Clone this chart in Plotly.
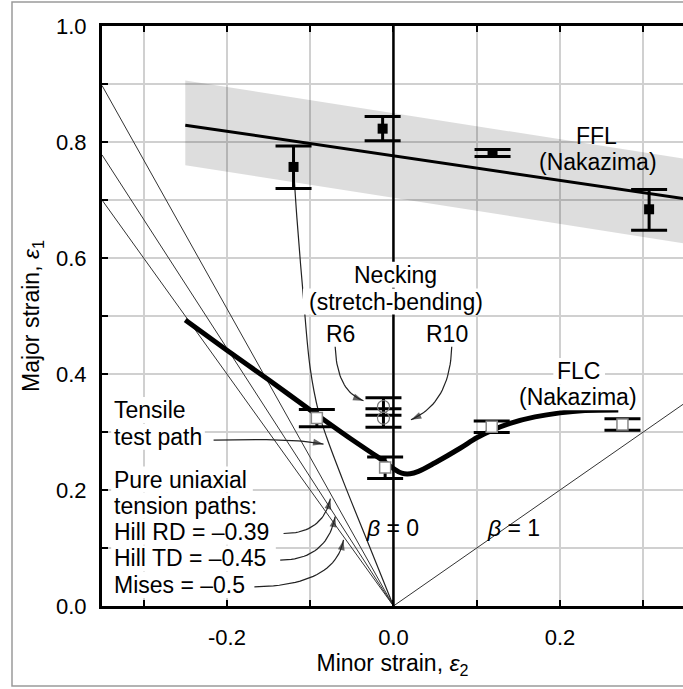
import plotly.graph_objects as go

# ---------------- data ----------------
# FFL (Nakazima) fracture points
ffl_x = [-0.120, -0.013, 0.119, 0.307]
ffl_y = [0.757, 0.823, 0.781, 0.684]
ffl_err_plus = [0.036, 0.021, 0.006, 0.034]
ffl_err_minus = [0.037, 0.021, 0.006, 0.036]
# FFL fitted line and scatter band
ffl_line_x = [-0.25, 0.35]
ffl_line_y = [0.829, 0.702]
band_x = [-0.25, 0.35, 0.35, -0.25]
band_y = [0.906, 0.771, 0.625, 0.760]

# FLC (Nakazima) necking points
flc_x = [-0.092, -0.010, 0.118, 0.275]
flc_y = [0.324, 0.239, 0.309, 0.313]
flc_err_plus = [0.015, 0.018, 0.010, 0.010]
flc_err_minus = [0.015, 0.019, 0.010, 0.010]
# FLC curve
flc_curve_x = [-0.25, -0.20, -0.15, -0.10, -0.05, -0.02, -0.01, 0.0, 0.01, 0.02,
               0.03, 0.05, 0.08, 0.10, 0.12, 0.14, 0.17, 0.20, 0.23, 0.27]
flc_curve_y = [0.493, 0.441, 0.390, 0.338, 0.287, 0.258, 0.248, 0.237, 0.229, 0.228,
               0.232, 0.247, 0.272, 0.290, 0.304, 0.315, 0.326, 0.333, 0.337, 0.338]

# Necking in stretch-bending (R6, R10)
neck_x = [-0.012, -0.012]
neck_y = [0.344, 0.324]
neck_err = [0.015, 0.016]

# Tensile test path
tensile_x = [0.0, -0.030, -0.060, -0.080, -0.090, -0.100, -0.108, -0.116, -0.120]
tensile_y = [0.0, 0.107, 0.214, 0.290, 0.335, 0.410, 0.530, 0.670, 0.757]

# Strain paths from origin (beta = eps2/eps1)
uniaxial_beta = [-0.39, -0.45, -0.5]
x_left, x_right = -0.35, 0.3477

x_ticks = [-0.2, 0.0, 0.2]
x_ticktext = ["-0.2", "0.0", "0.2"]
y_ticks = [0.0, 0.2, 0.4, 0.6, 0.8, 1.0]
y_ticktext = ["0.0", "0.2", "0.4", "0.6", "0.8", "1.0"]

FONT = "Liberation Sans, Arial, sans-serif"
PX_X = 581 / (x_right - x_left)
PX_Y = 580 / 1.0

fig = go.Figure()

# scatter band
fig.add_trace(go.Scatter(x=band_x, y=band_y, fill="toself", mode="lines",
                         line=dict(width=0), fillcolor="rgba(0,0,0,0.135)",
                         hoverinfo="skip", showlegend=False))

# uniaxial paths
for b in uniaxial_beta:
    fig.add_trace(go.Scatter(x=[0, x_left], y=[0, x_left / b], mode="lines",
                             line=dict(color="#333", width=1), showlegend=False))
# beta = 1
fig.add_trace(go.Scatter(x=[0, 0.35], y=[0, 0.35], mode="lines",
                         line=dict(color="#333", width=1), showlegend=False))
# beta = 0 (plane strain)
fig.add_trace(go.Scatter(x=[0, 0], y=[0, 1.0], mode="lines",
                         line=dict(color="black", width=2.5), showlegend=False))
# tensile test path
fig.add_trace(go.Scatter(x=tensile_x, y=tensile_y, mode="lines", line_shape="spline",
                         line=dict(color="#222", width=1.2), showlegend=False))

# FFL line
fig.add_trace(go.Scatter(x=ffl_line_x, y=ffl_line_y, mode="lines",
                         line=dict(color="black", width=3), showlegend=False))
# FLC curve
fig.add_trace(go.Scatter(x=flc_curve_x, y=flc_curve_y, mode="lines", line_shape="spline",
                         line=dict(color="black", width=5), showlegend=False))

# FFL points
fig.add_trace(go.Scatter(x=ffl_x, y=ffl_y, mode="markers",
                         marker=dict(symbol="square", size=10, color="black"),
                         error_y=dict(type="data", symmetric=False, array=ffl_err_plus,
                                      arrayminus=ffl_err_minus, color="black",
                                      thickness=3, width=18),
                         showlegend=False))
# FLC points
fig.add_trace(go.Scatter(x=flc_x, y=flc_y, mode="markers",
                         marker=dict(symbol="square", size=11, color="white",
                                     line=dict(color="#888", width=1.5)),
                         error_y=dict(type="data", symmetric=False, array=flc_err_plus,
                                      arrayminus=flc_err_minus, color="black",
                                      thickness=3, width=18),
                         showlegend=False))
# Necking points
fig.add_trace(go.Scatter(x=neck_x, y=neck_y, mode="markers",
                         marker=dict(symbol="circle-open", size=12, color="#777",
                                     line=dict(width=1.2)),
                         error_y=dict(type="data", array=neck_err, color="black",
                                      thickness=3, width=18),
                         showlegend=False))

# ---------------- layout ----------------
annotations = []
shapes = []


def text(x, y, s, anchor="center", box_px=0, size=23):
    """Label; box_px > 0 puts a white box of that pixel width behind it."""
    if box_px:
        w = box_px / PX_X
        h = 13 / PX_Y
        x0 = x - 0.002 if anchor == "left" else x - w / 2
        shapes.append(dict(type="rect", xref="x", yref="y", x0=x0, x1=x0 + w + 0.002,
                           y0=y - h, y1=y + h, fillcolor="white",
                           line=dict(width=0), layer="above"))
    annotations.append(dict(x=x, y=y, xref="x", yref="y", text=s, showarrow=False,
                            xanchor=anchor, yanchor="middle", borderpad=0,
                            font=dict(family=FONT, size=size, color="black")))


text(0.244, 0.811, "FFL")
text(0.246, 0.766, "(Nakazima)")
text(0.003, 0.571, "Necking", box_px=90)
text(0.003, 0.525, "(stretch-bending)", box_px=186)
text(-0.064, 0.469, "R6")
text(0.064, 0.469, "R10")
text(0.222, 0.405, "FLC", box_px=50)
text(0.222, 0.360, "(Nakazima)", box_px=124)
text(-0.337, 0.338, "Tensile", "left", box_px=78)
text(-0.337, 0.292, "test path", "left", box_px=92)
text(-0.337, 0.218, "Pure uniaxial", "left", box_px=140)
text(-0.337, 0.173, "tension paths:", "left", box_px=150)
text(-0.337, 0.128, "Hill RD = –0.39", "left", box_px=166)
text(-0.337, 0.082, "Hill TD = –0.45", "left", box_px=163)
text(-0.337, 0.036, "Mises = –0.5", "left", box_px=136)
text(-0.001, 0.134, "<i>β</i> = 0")
text(0.1445, 0.134, "<i>β</i> = 1")

# curved callout arrows: (tail, control, tip) as quadratic curves
arrows = [
    ((-0.216, 0.286), (-0.12, 0.290), (-0.084, 0.279)),   # tensile
    ((-0.132, 0.125), (-0.085, 0.125), (-0.0757, 0.185)),  # Hill RD
    ((-0.136, 0.079), (-0.080, 0.080), (-0.070, 0.154)),   # Hill TD
    ((-0.167, 0.033), (-0.070, 0.035), (-0.060, 0.114)),   # Mises
    ((-0.070, 0.447), (-0.068, 0.370), (-0.036, 0.354)),   # R6
    ((0.070, 0.447), (0.068, 0.350), (0.021, 0.321)),      # R10
]
N = 24
for (t, c, h) in arrows:
    ts = [i / N for i in range(N + 1)]
    bx = [(1 - s) ** 2 * t[0] + 2 * (1 - s) * s * c[0] + s ** 2 * h[0] for s in ts]
    by = [(1 - s) ** 2 * t[1] + 2 * (1 - s) * s * c[1] + s ** 2 * h[1] for s in ts]
    sizes = [0] * N + [11]
    fig.add_trace(go.Scatter(x=bx, y=by, mode="lines+markers",
                             line=dict(color="#222", width=1.2),
                             marker=dict(symbol="arrow", angleref="previous",
                                         size=sizes, color="#222",
                                         line=dict(width=0)),
                             hoverinfo="skip", showlegend=False))

# outer frame
shapes.append(dict(type="rect", xref="paper", yref="paper",
                   x0=(12 - 102) / 581, x1=1.05, y0=-(686 - 606) / 580, y1=(606 - 2) / 580,
                   line=dict(color="#9a9a9a", width=1.5), layer="below"))

grid = dict(showgrid=True, gridcolor="#d0d0d0", gridwidth=1.5)
tick = dict(ticks="inside", ticklen=6, tickwidth=2, tickcolor="black")

fig.update_layout(
    width=683, height=689,
    margin=dict(l=102, r=0, t=26, b=83),
    paper_bgcolor="white", plot_bgcolor="white",
    font=dict(family=FONT, color="black"),
    showlegend=False,
    annotations=annotations,
    shapes=shapes,
    xaxis=dict(range=[x_left, x_right], tickvals=x_ticks, ticktext=x_ticktext,
               zeroline=False, showline=True, linecolor="black", linewidth=3,
               mirror="ticks", **grid, **tick,
               minor=dict(dtick=0.1, tick0=0.0, **grid, **tick),
               tickfont=dict(size=22, family=FONT), ticklabelstandoff=10,
               title=dict(text="Minor strain, <i>ε</i><sub>2</sub>",
                          font=dict(size=23, family=FONT), standoff=4)),
    yaxis=dict(range=[0, 1.0], tickvals=y_ticks, ticktext=y_ticktext,
               zeroline=False, showline=True, linecolor="black", linewidth=3,
               mirror=False, **grid, **tick,
               minor=dict(dtick=0.1, tick0=0.0, **grid, **tick),
               tickfont=dict(size=22, family=FONT), ticklabelstandoff=8,
               title=dict(text="Major strain, <i>ε</i><sub>1</sub>",
                          font=dict(size=23, family=FONT), standoff=10)),
)

fig.write_html("out.html")
